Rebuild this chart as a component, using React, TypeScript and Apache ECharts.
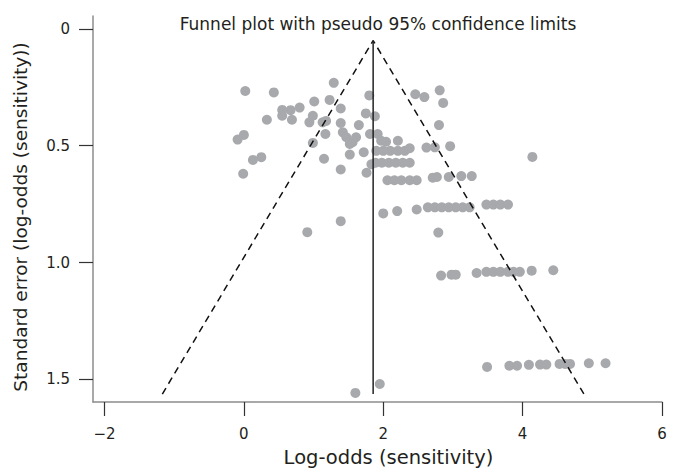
import React, { useEffect, useRef } from "react";
import * as echarts from "echarts";

const chartTitle = "Funnel plot with pseudo 95% confidence limits";
const xAxisTitle = "Log-odds (sensitivity)";
const yAxisTitle = "Standard error (log-odds (sensitivity))";

const xTickValues = [-2, 0, 2, 4, 6];
const xTickLabels = ["\u22122", "0", "2", "4", "6"];
const yTickValues = [0, 0.5, 1.0, 1.5];
const yTickLabels = ["0", "0.5", "1.0", "1.5"];

// Pooled estimate and pseudo 95% limits
const pooledLogOdds = 1.855;
const funnelApexSE = 0.05;
const funnelBaseSE = 1.563;
const funnelLeftX = -1.17;
const funnelRightX = 4.88;

// Study points: log-odds (sensitivity) and standard error
const logOddsA = [0.02, 0.43, 1.29, 1.8, 1.01, 1.23, 0.8, 0.67, 0.55, 0.55, 0.69, 0.33, 0.99, 1.39, 1.75, 1.88, 0.94, 1.13, 1.18, 1.39, 1.65, -0.09, 0.0, 1.17, 1.42, 1.47, 1.61, 1.56, 1.52, 1.81, 1.92, 1.97, 2.04, 2.21, 0.99, 1.52, 1.72, 0.25, 0.13, 1.15, -0.01, 1.39, 1.76, 1.83];
const stdErrA = [0.266, 0.272, 0.231, 0.285, 0.311, 0.304, 0.337, 0.348, 0.347, 0.372, 0.389, 0.389, 0.372, 0.341, 0.362, 0.374, 0.4, 0.4, 0.394, 0.403, 0.412, 0.474, 0.454, 0.45, 0.443, 0.464, 0.464, 0.485, 0.493, 0.45, 0.45, 0.479, 0.483, 0.479, 0.488, 0.538, 0.528, 0.549, 0.561, 0.556, 0.62, 0.602, 0.616, 0.58];

const logOddsB = [1.9, 2.0, 2.1, 2.21, 2.31, 2.38, 1.89, 1.98, 2.08, 2.18, 2.28, 2.38, 2.06, 2.16, 2.26, 2.38, 2.48, 2.71, 2.77, 2.94, 3.12, 3.27, 2.46, 2.59, 2.81, 2.86, 2.8, 2.62, 2.74, 2.96, 4.14];
const stdErrB = [0.522, 0.522, 0.522, 0.522, 0.522, 0.511, 0.573, 0.573, 0.573, 0.573, 0.573, 0.573, 0.648, 0.648, 0.648, 0.648, 0.648, 0.637, 0.634, 0.634, 0.63, 0.63, 0.28, 0.292, 0.263, 0.317, 0.412, 0.508, 0.507, 0.502, 0.548];

const logOddsC = [2.0, 2.2, 2.48, 2.64, 2.74, 2.84, 2.94, 3.04, 3.14, 3.24, 3.48, 3.58, 3.68, 3.79, 2.79, 0.91, 1.39];
const stdErrC = [0.79, 0.78, 0.773, 0.764, 0.764, 0.764, 0.764, 0.764, 0.764, 0.764, 0.752, 0.752, 0.752, 0.752, 0.872, 0.87, 0.823];

const logOddsD = [2.83, 2.98, 3.04, 3.34, 3.48, 3.58, 3.68, 3.79, 3.87, 3.96, 4.13, 4.44, 3.49, 3.81, 3.92, 4.09, 4.25, 4.34, 4.53, 4.61, 4.68, 4.95, 5.19, 1.6, 1.95];
const stdErrD = [1.056, 1.052, 1.052, 1.045, 1.04, 1.04, 1.04, 1.04, 1.04, 1.04, 1.035, 1.033, 1.447, 1.442, 1.442, 1.438, 1.437, 1.437, 1.434, 1.434, 1.434, 1.431, 1.431, 1.558, 1.52];

const FONT = "'DejaVu Sans', 'Liberation Sans', Arial, sans-serif";

export default function App() {
  const ref = useRef<HTMLDivElement>(null);
  useEffect(() => {
    document.body.style.margin = "0";
    if (!ref.current) return;
    const chart = echarts.init(ref.current, null, { renderer: "svg" });
    const xs = [...logOddsA, ...logOddsB, ...logOddsC, ...logOddsD];
    const ys = [...stdErrA, ...stdErrB, ...stdErrC, ...stdErrD];
    const points = xs.map((x, i) => [x, ys[i]]);
    const labelMap = (vals: number[], labels: string[]) => (v: number) => {
      const i = vals.findIndex((t) => Math.abs(t - v) < 1e-6);
      return i >= 0 ? labels[i] : "";
    };
    chart.setOption({
      animation: false,
      backgroundColor: "#ffffff",
      title: {
        text: chartTitle,
        left: 373,
        top: 10,
        textAlign: "center",
        textStyle: { fontFamily: FONT, fontSize: 17, fontWeight: "normal", color: "#231f20" },
      },
      grid: { left: 93, right: 16, top: 16, bottom: 67, containLabel: false },
      xAxis: {
        type: "value",
        min: -2.165,
        max: 6,
        name: xAxisTitle,
        nameLocation: "middle",
        nameGap: 45,
        nameTextStyle: { fontFamily: FONT, fontSize: 19.5, color: "#231f20", padding: [0, 0, 0, 22] },
        splitLine: { show: false },
        axisLine: { show: true, onZero: false, lineStyle: { color: "#8c8c8c", width: 1.5 } },
        axisTick: { show: true, length: 14, lineStyle: { color: "#333", width: 1.2 }, customValues: xTickValues },
        axisLabel: {
          fontFamily: FONT,
          fontSize: 15,
          color: "#231f20",
          margin: 24,
          customValues: xTickValues,
          formatter: labelMap(xTickValues, xTickLabels),
        },
      },
      yAxis: {
        type: "value",
        inverse: true,
        min: -0.055,
        max: 1.597,
        name: yAxisTitle,
        nameLocation: "middle",
        nameGap: 63,
        nameRotate: 90,
        nameTextStyle: { fontFamily: FONT, fontSize: 18.5, color: "#231f20", padding: [0, 16, 0, 0] },
        splitLine: { show: false },
        axisLine: { show: true, onZero: false, lineStyle: { color: "#8c8c8c", width: 1.5 } },
        axisTick: { show: true, length: 14, lineStyle: { color: "#333", width: 1.2 }, customValues: yTickValues },
        axisLabel: {
          fontFamily: FONT,
          fontSize: 15,
          color: "#231f20",
          margin: 23,
          customValues: yTickValues,
          formatter: labelMap(yTickValues, yTickLabels),
        },
      },
      series: [
        {
          type: "scatter",
          data: points,
          symbolSize: 10,
          itemStyle: { color: "#a7a9ac", opacity: 1 },
          z: 2,
        },
        {
          type: "line",
          data: [
            [funnelLeftX, funnelBaseSE],
            [pooledLogOdds, funnelApexSE],
            [funnelRightX, funnelBaseSE],
          ],
          symbol: "none",
          lineStyle: { color: "#111", width: 1.5, type: [7, 5] },
          z: 3,
        },
        {
          type: "line",
          data: [
            [pooledLogOdds, funnelApexSE],
            [pooledLogOdds, funnelBaseSE],
          ],
          symbol: "none",
          lineStyle: { color: "#222", width: 1.5 },
          z: 3,
        },
      ],
    });
    return () => chart.dispose();
  }, []);
  return <div ref={ref} style={{ width: 678, height: 472 }} />;
}
